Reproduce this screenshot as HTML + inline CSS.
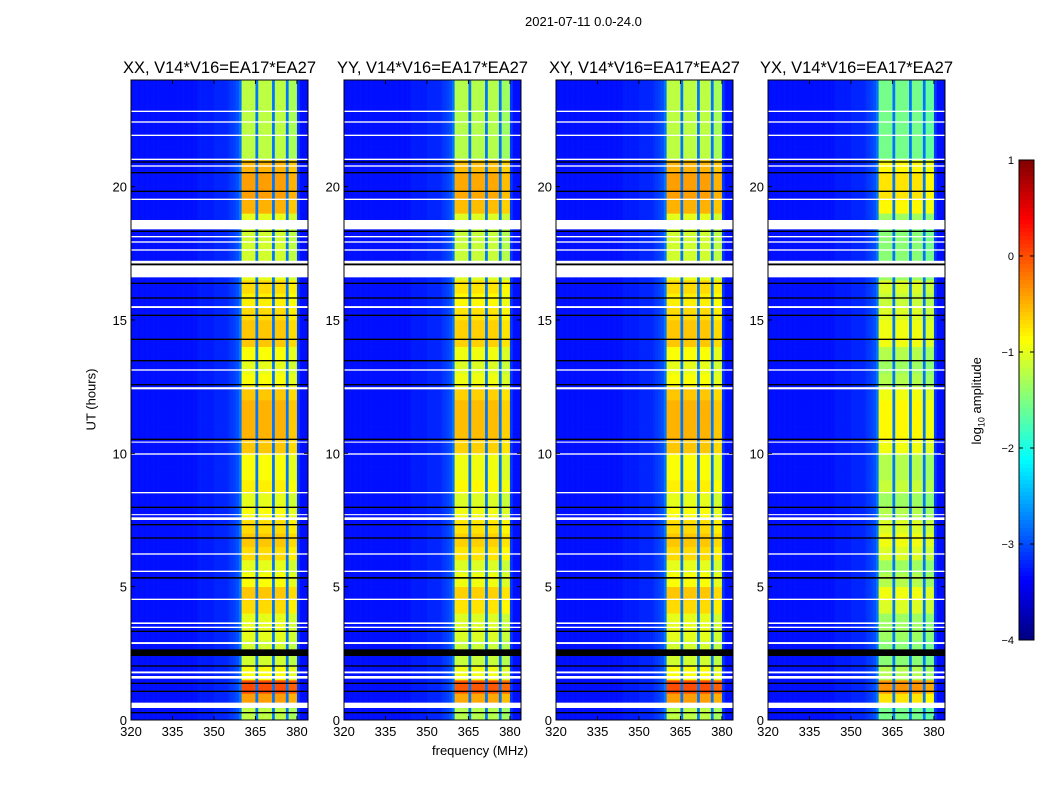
<!DOCTYPE html>
<html><head><meta charset="utf-8"><style>
body{margin:0;background:#fff;font-family:"Liberation Sans",sans-serif;}
#root{position:relative;width:1050px;height:800px;overflow:hidden;}
.t{position:absolute;font-size:13px;color:#000;white-space:nowrap;}
</style></head><body>
<div id="root">
<div class="t" style="left:525px;top:14px;">2021-07-11 0.0-24.0</div>
<div class="t" style="left:432px;top:743px;">frequency (MHz)</div>
<div class="t" style="left:60px;top:392px;transform:rotate(-90deg);">UT (hours)</div>
<div class="t" style="left:934px;top:392px;transform:rotate(-90deg);">log<sub style="font-size:9px">10</sub> amplitude</div>
<svg id="svg" width="1050" height="800" style="position:absolute;left:0;top:0"></svg>
</div>
<script>
const panelTitles=["XX, V14*V16=EA17*EA27","YY, V14*V16=EA17*EA27","XY, V14*V16=EA17*EA27","YX, V14*V16=EA17*EA27"];
const panelOffsets=[0,-0.05,0,-0.35];
// log10 amplitude per 1 MHz channel, 320..383
const freqProfile=[-3.3,-3.3,-3.3,-3.3,-3.3,-3.3,-3.3,-3.3,-3.3,-3.3,-3.3,-3.3,-3.3,-3.3,-3.3,-3.3,-3.3,-3.3,-3.3,-3.3,
-3.3,-3.3,-3.3,-3.3,-3.25,-3.25,-3.25,-3.25,-3.25,-3.25,-3.2,-3.2,-3.2,-3.2,-3.2,-3.15,-3.1,-3.05,-3.0,-2.8,
-1.2,-1.2,-1.2,-1.2,-1.2,-2.8,-1.2,-1.2,-1.2,-1.2,-1.2,-2.8,-1.2,-1.2,-1.2,-1.2,-2.8,-1.3,-1.3,-1.3,-3.1,-3.3,-3.3,-3.3];
// band amplitude offset per half-hour (0..24h)
const timeProfile=[0,0.8,1.2,0.3,0.1,0.1,0.2,0.2,0.5,0.6,0.3,0.2,0.5,0.6,0.5,0.3,0.2,0.4,0.3,0.3,0.6,0.7,0.7,0.7,0.6,0.3,0.2,0.3,0.6,0.6,0.5,0.4,0.5,0.2,0.1,0.1,0.1,0.2,0.7,0.8,0.8,0.7,0.0,0.0,0.0,0.0,0.0,0.0];
// flagged rows [startHour,endHour]
const whiteRows=[[0.45,0.65],[1.55,1.65],[1.75,1.82],[2.85,2.92],[3.45,3.5],[3.6,3.66],[4.5,4.55],[5.55,5.6],[6.2,6.25],[7.5,7.6],[7.68,7.72],[8.5,8.55],[9.95,10.0],[10.4,10.44],[12.4,12.48],[13.1,13.15],[15.45,15.52],[16.6,17.22],[17.6,17.65],[17.9,17.95],[18.1,18.15],[18.4,18.75],[19.5,19.55],[20.75,20.8],[21.0,21.05],[21.9,21.95],[22.4,22.45],[22.8,22.85]];
const blackRows=[[0.25,0.3],[1.05,1.1],[1.35,1.4],[2.0,2.05],[2.4,2.65],[3.3,3.35],[5.3,5.36],[6.8,6.85],[7.3,7.35],[7.95,8.0],[10.5,10.55],[12.55,12.6],[13.45,13.5],[14.25,14.3],[15.15,15.2],[15.8,15.85],[16.35,16.4],[17.05,17.12],[18.3,18.35],[19.8,19.85],[20.5,20.55],[20.9,20.95]];
const xTicks=[320,335,350,365,380];
const yTicks=[0,5,10,15,20];
const cbTicks=[1,0,-1,-2,-3,-4];

const NS="http://www.w3.org/2000/svg";
const svg=document.getElementById('svg');
const lefts=[131,344,556,768],W=177,TOP=80,H=640;
const fMin=320,fMax=384,tMax=24,vMin=-4,vMax=1;
function jet(v){let t=Math.max(0,Math.min(1,(v-vMin)/(vMax-vMin)));
 const c=x=>Math.round(255*Math.max(0,Math.min(1,1.5-Math.abs(4*t-x))));
 return `rgb(${c(3)},${c(2)},${c(1)})`;}
function el(tag,attrs,parent){const e=document.createElementNS(NS,tag);for(const k in attrs)e.setAttribute(k,attrs[k]);(parent||svg).appendChild(e);return e;}
panelTitles.forEach((title,p)=>{
 const L=lefts[p];
 const xs=f=>L+(f-fMin)/(fMax-fMin)*W;
 const ys=h=>TOP+H-(h/tMax)*H;
 const g=el('g',{});
 
 
 const dt=tMax/timeProfile.length;
 timeProfile.forEach((tv,ti)=>{
  freqProfile.forEach((fv,fi)=>{
   const inBand=fv>-2;
   let v=fv+(inBand?tv+panelOffsets[p]:0);
   const r=el('rect',{x:xs(fMin+fi),y:ys((ti+1)*dt),width:xs(fMin+fi+1)-xs(fMin+fi)+0.3,height:ys(ti*dt)-ys((ti+1)*dt)+0.3,fill:jet(v)},g);
   
   
  });
 });
 whiteRows.forEach(([a,b])=>{const r=el('rect',{x:L,y:ys(b),width:W,height:Math.max(1,ys(a)-ys(b)),fill:'#fff'},g);
  });
 blackRows.forEach(([a,b])=>{const r=el('rect',{x:L,y:ys(b),width:W,height:Math.max(1,ys(a)-ys(b)),fill:'#000'},g);
  });
 el('rect',{x:L,y:TOP,width:W,height:H,fill:'none',stroke:'#000','stroke-width':1},g);
 const tt=el('text',{x:L+W/2,y:TOP-7,'text-anchor':'middle','font-size':16.5,'font-family':'Liberation Sans,sans-serif'},g);
 tt.textContent=title;
 
 xTicks.forEach(f=>{const x=xs(f);
  el('line',{x1:x,x2:x,y1:TOP+H,y2:TOP+H-4,stroke:'#000'},g);el('line',{x1:x,x2:x,y1:TOP,y2:TOP+4,stroke:'#000'},g);
  const t=el('text',{x:x,y:TOP+H+16,'text-anchor':'middle','font-size':13,'font-family':'Liberation Sans,sans-serif'},g);t.textContent=f;
  });
 yTicks.forEach(h=>{const y=ys(h);
  el('line',{x1:L,x2:L+4,y1:y,y2:y,stroke:'#000'},g);el('line',{x1:L+W,x2:L+W-4,y1:y,y2:y,stroke:'#000'},g);
  const t=el('text',{x:L-4,y:y+5,'text-anchor':'end','font-size':13,'font-family':'Liberation Sans,sans-serif'},g);t.textContent=h;
  });
});
// colorbar
const cbX=1019,cbW=15,cbT=160,cbH=480;
const cbs=v=>cbT+(vMax-v)/(vMax-vMin)*cbH;
const cg=el('g',{});


for(let i=0;i<120;i++){const v=vMax-(i+0.5)*(vMax-vMin)/120;
 el('rect',{x:cbX,y:cbT+i*cbH/120,width:cbW,height:cbH/120+0.5,fill:jet(v)},cg);}
el('rect',{x:cbX,y:cbT,width:cbW,height:cbH,fill:'none',stroke:'#000'},cg);
cbTicks.forEach(v=>{const y=cbs(v);
 el('line',{x1:cbX,x2:cbX+4,y1:y,y2:y,stroke:'#000'},cg);el('line',{x1:cbX+cbW,x2:cbX+cbW-4,y1:y,y2:y,stroke:'#000'},cg);
 const t=el('text',{x:cbX-5,y:y+4,'text-anchor':'end','font-size':11,'font-family':'Liberation Sans,sans-serif'},cg);
 t.textContent=v<0?'\u2212'+(-v):String(v);
 });
</script>
</body></html>
